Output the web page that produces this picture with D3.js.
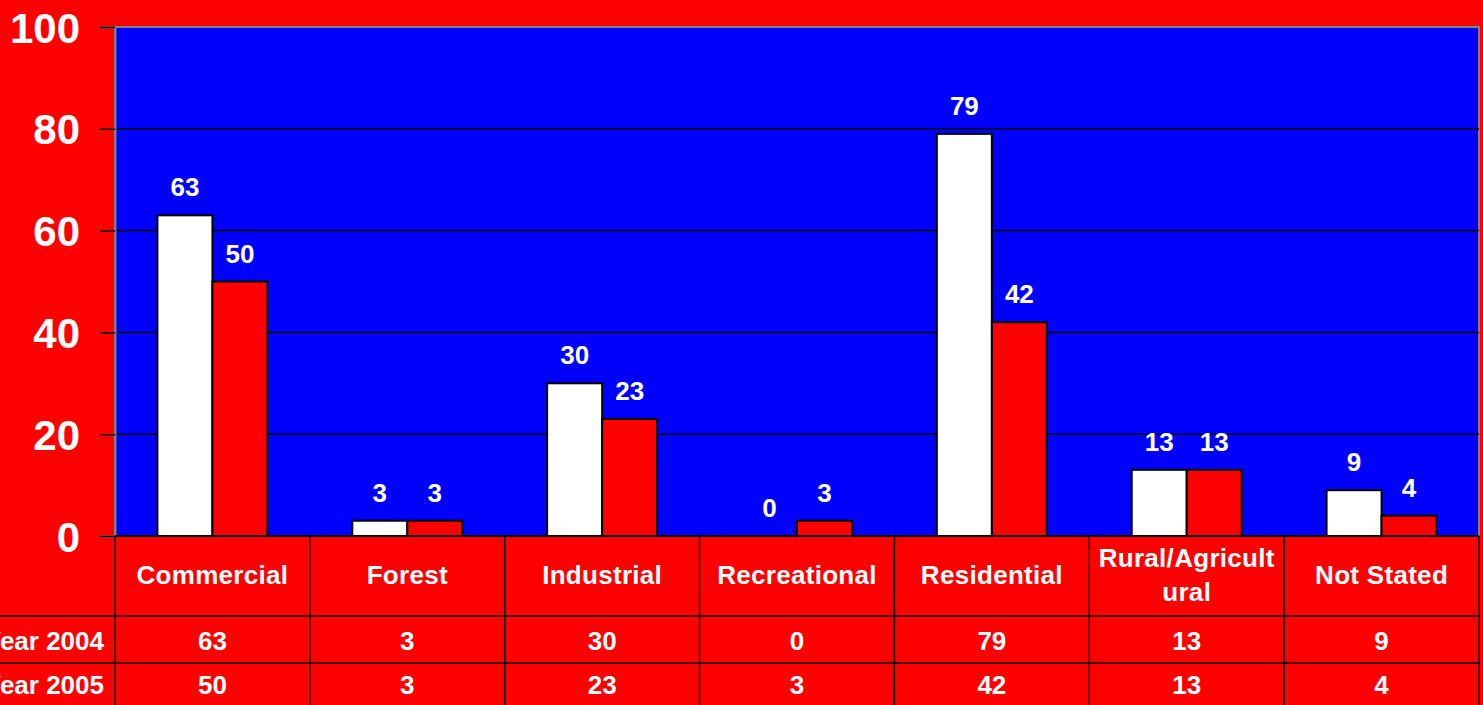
<!DOCTYPE html>
<html>
<head>
<meta charset="utf-8">
<script src="https://cdn.jsdelivr.net/npm/d3@7"></script>
<style>
  html, body { margin: 0; padding: 0; background: #ff0000; overflow: hidden; }
  text { font-family: "Liberation Sans", Arial, sans-serif; font-weight: bold; fill: #fff; }
</style>
</head>
<body>
<div id="chart"></div>
<script>
// data
var categories = ["Commercial", "Forest", "Industrial", "Recreational", "Residential", "Rural/Agricultural", "Not Stated"];
var categoryLines = [["Commercial"], ["Forest"], ["Industrial"], ["Recreational"], ["Residential"], ["Rural/Agricult", "ural"], ["Not Stated"]];
var seriesNames = ["Year 2004", "Year 2005"];
var year2004 = [63, 3, 30, 0, 79, 13, 9];
var year2005 = [50, 3, 23, 3, 42, 13, 4];
var yTicks = [0, 20, 40, 60, 80, 100];
var seriesColors = ["#ffffff", "#ff0000"];

var W = 1483, H = 705;
var plot = {left: 115, right: 1479, top: 27, bottom: 536};
var rowLines = [536, 616, 663, 710];

var svg = d3.select("#chart").append("svg")
    .attr("width", W)
    .attr("height", H);

svg.append("rect").attr("width", W).attr("height", H).attr("fill", "#ff0000");

var x = d3.scaleBand().domain(categories).range([plot.left, plot.right]);
var y = d3.scaleLinear().domain([0, 100]).range([plot.bottom, plot.top]);
var inner = d3.scaleBand().domain(seriesNames).range([0, 110]);
var groupOff = (x.bandwidth() - 110) / 2;

// plot background
svg.append("rect")
    .attr("x", plot.left).attr("y", plot.top)
    .attr("width", plot.right - plot.left).attr("height", plot.bottom - plot.top)
    .attr("fill", "#0000ff")
    .attr("stroke", "#808080").attr("stroke-width", 2);

// gridlines
svg.append("g").selectAll("line")
  .data(yTicks.filter(function(d) { return d > 0 && d < 100; }))
  .enter().append("line")
    .attr("x1", plot.left).attr("x2", plot.right)
    .attr("y1", function(d) { return y(d); }).attr("y2", function(d) { return y(d); })
    .attr("stroke", "#000").attr("stroke-width", 1.5);

// y axis
var yAxis = svg.append("g")
    .attr("transform", "translate(" + plot.left + ",0)")
    .call(d3.axisLeft(y).tickValues(yTicks).tickSize(15).tickPadding(20));
yAxis.select(".domain").attr("stroke", "#808080").attr("stroke-width", 2);
yAxis.selectAll(".tick line").attr("stroke", "#000").attr("stroke-width", 1.5);
yAxis.selectAll(".tick text")
    .attr("fill", "#fff")
    .attr("dy", "0.36em")
    .style("font-size", "42px")
    .style("font-family", "'Liberation Sans', Arial, sans-serif")
    .style("font-weight", "bold");

// bars
var seriesData = [year2004, year2005];
seriesNames.forEach(function(name, si) {
  var g = svg.append("g");
  var rows = categories.map(function(c, i) { return {cat: c, val: seriesData[si][i]}; });
  g.selectAll("rect")
    .data(rows)
    .enter().append("rect")
      .attr("x", function(d) { return x(d.cat) + groupOff + inner(name); })
      .attr("y", function(d) { return y(d.val); })
      .attr("width", inner.bandwidth())
      .attr("height", function(d) { return y(0) - y(d.val); })
      .attr("fill", seriesColors[si])
      .attr("stroke", "#000").attr("stroke-width", function(d) { return d.val > 0 ? 2 : 0; });
  g.selectAll("text")
    .data(rows)
    .enter().append("text")
      .attr("x", function(d) { return x(d.cat) + groupOff + inner(name) + inner.bandwidth() / 2; })
      .attr("y", function(d) { return y(d.val) - 19; })
      .attr("text-anchor", "middle")
      .style("font-size", "26px")
      .text(function(d) { return d.val; });
});

// data table
var table = svg.append("g");
table.selectAll("line.h")
  .data(rowLines.slice(1, 3))
  .enter().append("line")
    .attr("x1", 0).attr("x2", plot.right)
    .attr("y1", function(d) { return d; }).attr("y2", function(d) { return d; })
    .attr("stroke", "#000").attr("stroke-width", 1.5);
table.append("line")
    .attr("x1", plot.left).attr("x2", plot.right)
    .attr("y1", plot.bottom).attr("y2", plot.bottom)
    .attr("stroke", "#000").attr("stroke-width", 2);
table.selectAll("line.v")
  .data(categories.concat(["end"]))
  .enter().append("line")
    .attr("x1", function(d, i) { return i < categories.length ? x(d) : plot.right; })
    .attr("x2", function(d, i) { return i < categories.length ? x(d) : plot.right; })
    .attr("y1", plot.bottom).attr("y2", H)
    .attr("stroke", "#000").attr("stroke-width", 1.5);

// category header
categories.forEach(function(c, i) {
  var lines = categoryLines[i];
  var t = table.append("text")
      .attr("text-anchor", "middle")
      .style("font-size", "26px")
      .style("letter-spacing", "0.3px");
  var base = lines.length === 1 ? 584 : 567;
  lines.forEach(function(l, j) {
    t.append("tspan")
      .attr("x", x(c) + x.bandwidth() / 2)
      .attr("y", base + j * 34)
      .text(l);
  });
});

// value rows
var rowBase = [650, 694];
seriesNames.forEach(function(name, si) {
  table.append("text")
      .attr("x", 104).attr("y", rowBase[si])
      .attr("text-anchor", "end")
      .style("font-size", "26px")
      .text(name);
  table.selectAll("text.v" + si)
    .data(seriesData[si])
    .enter().append("text")
      .attr("x", function(d, i) { return x(categories[i]) + x.bandwidth() / 2; })
      .attr("y", rowBase[si])
      .attr("text-anchor", "middle")
      .style("font-size", "26px")
      .text(function(d) { return d; });
});
</script>
</body>
</html>
